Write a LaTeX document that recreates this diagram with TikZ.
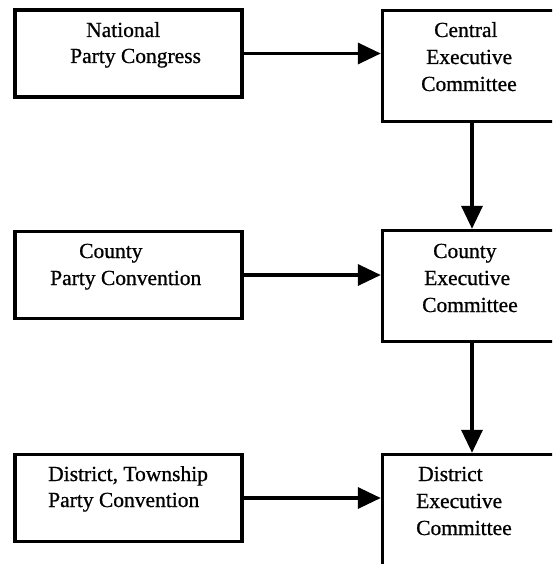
\documentclass[tikz,border=0pt]{standalone}
\usepackage{fontspec}
\setmainfont{Liberation Serif}[FakeBold=0.8]
\usetikzlibrary{arrows.meta}
\begin{document}
\begin{tikzpicture}[x=1pt,y=-1pt,
  lbox/.style={draw, line width=3.4pt, rectangle, inner sep=0pt, minimum width=227pt, minimum height=87pt},
  rbox/.style={draw, line width=3.4pt, rectangle, inner sep=0pt, minimum width=179pt, minimum height=111pt},
  txt/.style={anchor=base west, inner sep=0pt, font=\fontsize{21.5}{26}\selectfont},
  flow/.style={line width=3.4pt, -{Triangle[length=23pt,width=21pt]}}
]
\useasboundingbox (0,0) rectangle (552,564);
\clip (0,0) rectangle (552,564);

% left boxes
\node[lbox] (L1) at (128.5,53.5) {};
\node[lbox] (L2) at (128.5,275) {};
\node[lbox] (L3) at (128.5,498) {};
% right boxes
\node[rbox] (R1) at (472,66) {};
\node[rbox] (R2) at (472,286) {};
\node[rbox] (R3) at (472,510) {};

% texts, left
\node[txt] (t1a) at (86,37) {National};
\node[txt] (t1b) at (70,63) {Party Congress};
\node[txt] (t2a) at (79,258) {County};
\node[txt] (t2b) at (50,285) {Party Convention};
\node[txt] (t3a) at (48,481) {District, Township};
\node[txt] (t3b) at (48,507) {Party Convention};
% texts, right
\node[txt] (t4a) at (434,37) {Central};
\node[txt] (t4b) at (426,64) {Executive};
\node[txt] (t4c) at (421,91) {Committee};
\node[txt] (t5a) at (433,258) {County};
\node[txt] (t5b) at (424,285) {Executive};
\node[txt] (t5c) at (422,312) {Committee};
\node[txt] (t6a) at (418,481) {District};
\node[txt] (t6b) at (416,508) {Executive};
\node[txt] (t6c) at (416,535) {Committee};

% connectors
\draw[flow] (L1.east) -- (L1.east -| R1.west);
\draw[flow] (L2.east) -- (L2.east -| R2.west);
\draw[flow] (L3.east) -- (L3.east -| R3.west);
\draw[flow] (R1.south) -- (R2.north);
\draw[flow] (R2.south) -- (R3.north);
\end{tikzpicture}
\end{document}
